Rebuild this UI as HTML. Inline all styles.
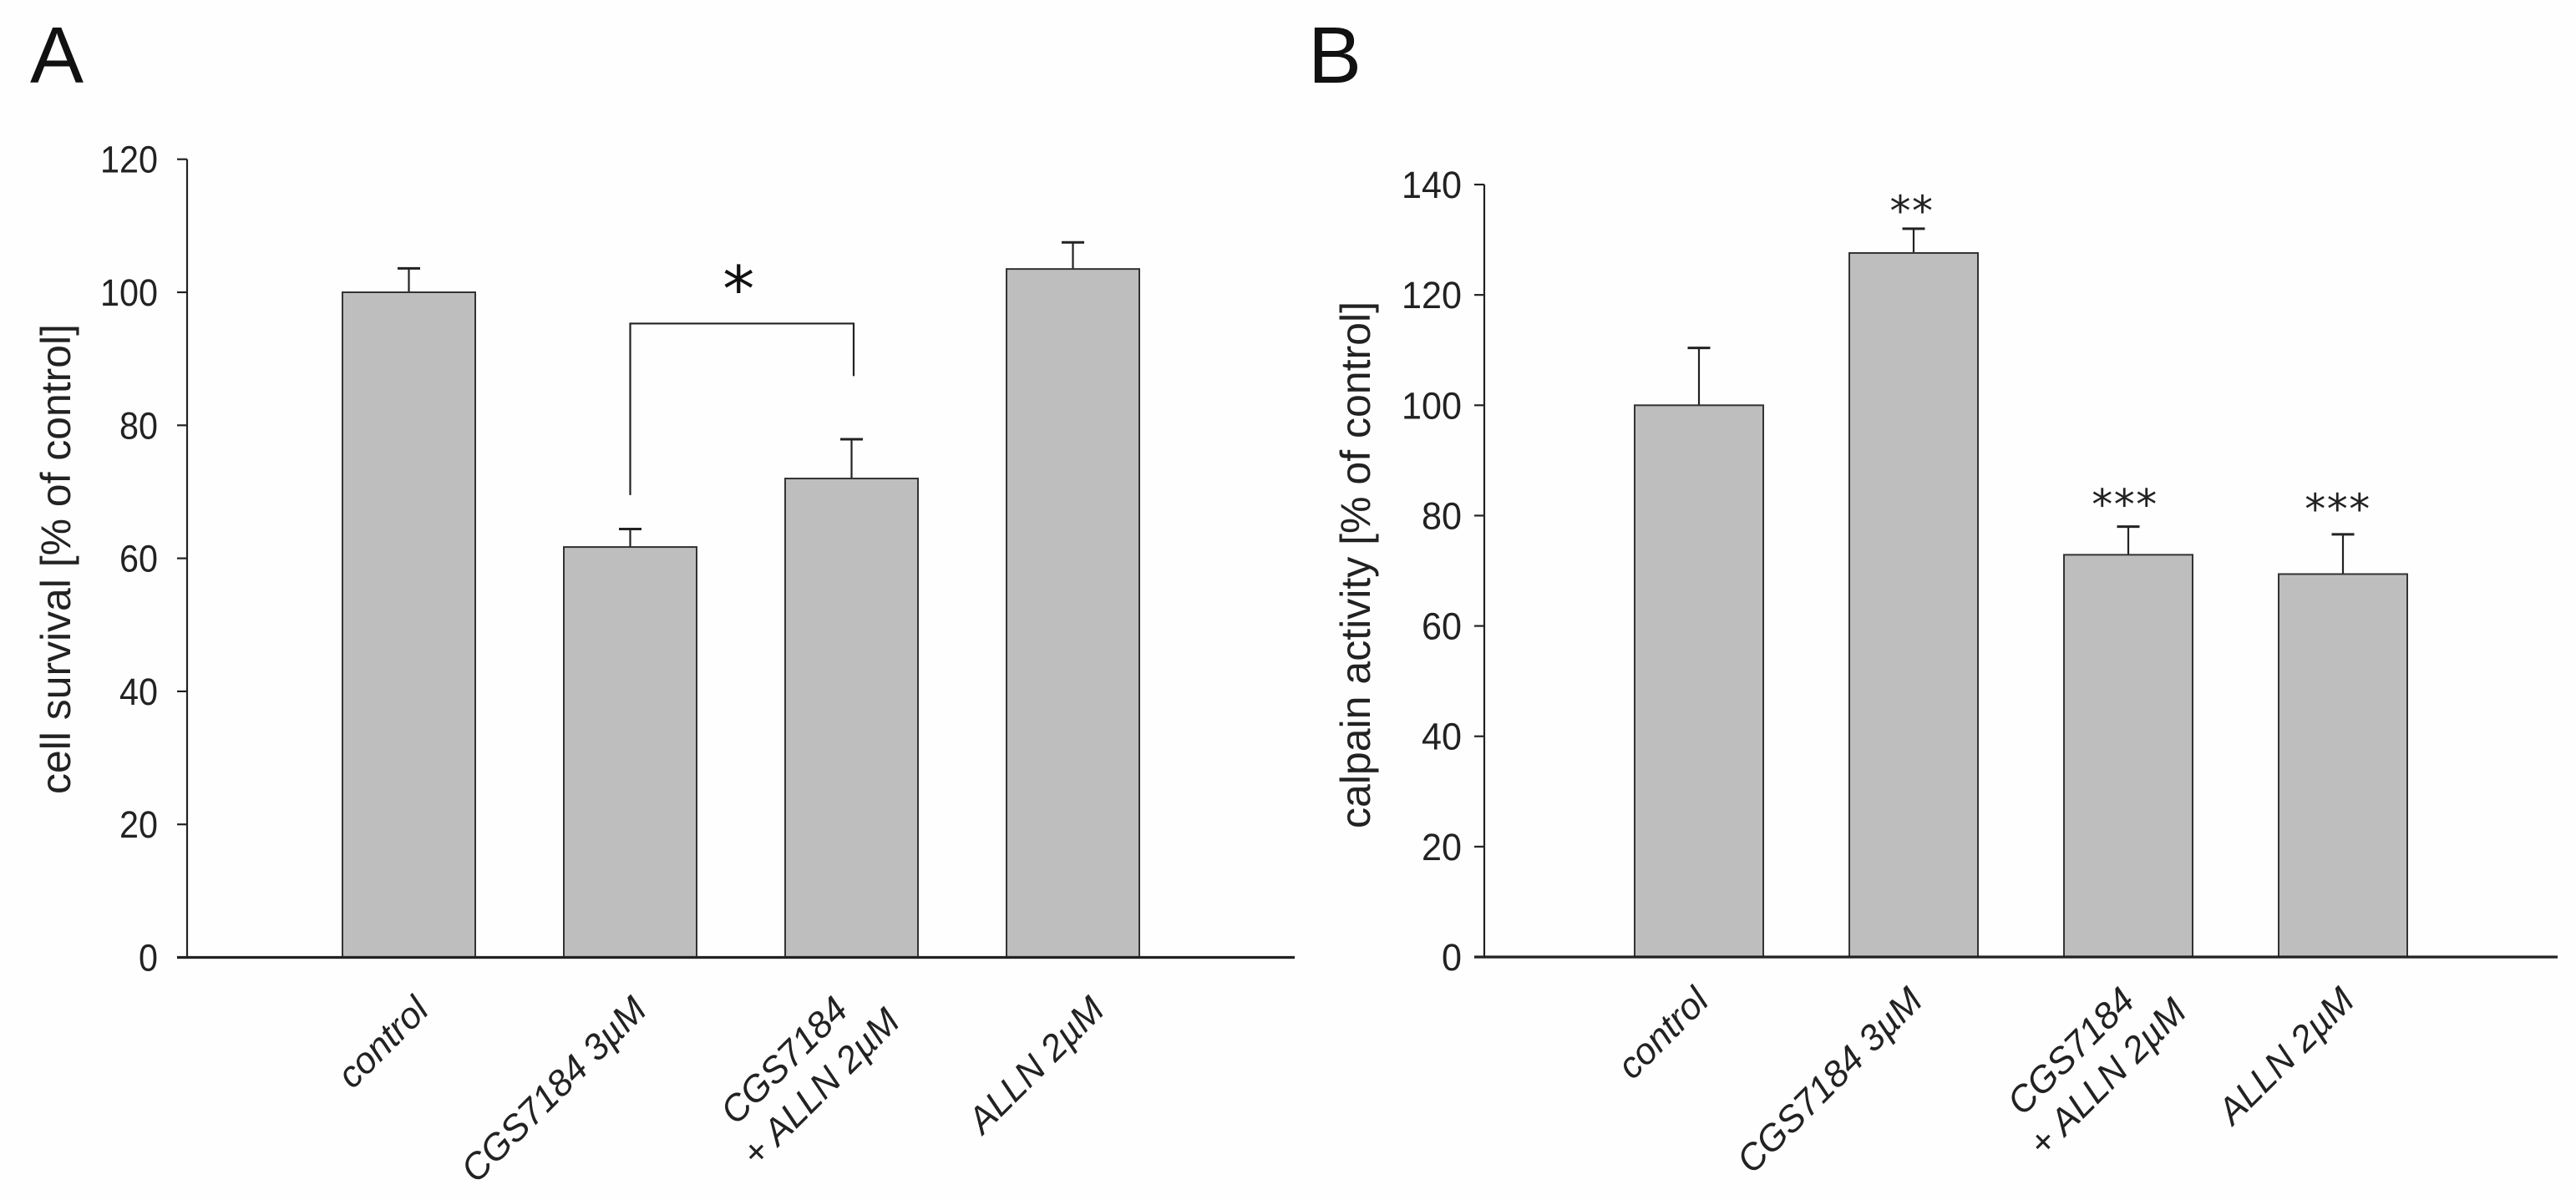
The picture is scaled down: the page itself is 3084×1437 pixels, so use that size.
<!DOCTYPE html>
<html lang="en">
<head>
<meta charset="utf-8">
<title>Cell survival and calpain activity</title>
<style>
html,body{margin:0;padding:0;background:#fff;}
svg{display:block;}
text{font-family:"Liberation Sans",Arial,sans-serif;fill:#222;}
</style>
</head>
<body>
<svg id="fig" xmlns="http://www.w3.org/2000/svg" width="3084" height="1437" viewBox="0 0 3084 1437">
  <rect x="0" y="0" width="3084" height="1437" fill="#fefefe"/>
  <text x="36" y="99" font-size="96" style="fill:#111">A</text>
  <text x="1566" y="99" font-size="96" style="fill:#111">B</text>
  <text transform="translate(84,951) rotate(-90)" font-size="50" textLength="563" lengthAdjust="spacingAndGlyphs">cell survival [% of control]</text>
  <text transform="translate(1640,992) rotate(-90)" font-size="50" textLength="631" lengthAdjust="spacingAndGlyphs">calpain activity [% of control]</text>
  <g id="panel-a"></g>
  <g id="panel-b"></g>
</svg>
<script>
// ---- Panel A data ----
const categoriesA = [["control"], ["CGS7184 3µM"], ["CGS7184", "+ ALLN 2µM"], ["ALLN 2µM"]];
const valuesA = [100, 61.7, 72, 103.5];
const errorTopsA = [103.6, 64.4, 77.9, 107.5];
const ticksA = [0, 20, 40, 60, 80, 100, 120];
const bracketLevelsA = [95.3, 69.5, 87.4];
const bracketStarA = ["*"];

// ---- Panel B data ----
const categoriesB = [["control"], ["CGS7184 3µM"], ["CGS7184", "+ ALLN 2µM"], ["ALLN 2µM"]];
const valuesB = [100, 127.6, 72.9, 69.4];
const errorTopsB = [110.4, 132, 78, 76.6];
const ticksB = [0, 20, 40, 60, 80, 100, 120, 140];
const significanceB = ["", "**", "***", "***"];

const NS = "http://www.w3.org/2000/svg";
function mk(parent, tag, attrs, txt) {
  const el = document.createElementNS(NS, tag);
  for (const k in attrs) el.setAttribute(k, attrs[k]);
  if (txt !== undefined) el.textContent = txt;
  parent.appendChild(el);
  return el;
}

function drawPanel(root, cfg) {
  const y = v => cfg.y0 - v * cfg.pxPerUnit;
  const left = i => cfg.firstBar + i * cfg.step;
  const center = i => left(i) + cfg.barW / 2;

  // bars first so axes draw on top
  cfg.values.forEach((v, i) => {
    const err = mk(root, "line", {x1: center(i), x2: center(i), y1: y(v), y2: y(cfg.errs[i]), stroke: "#222", "stroke-width": 2.2});
    
    
    const cap = mk(root, "line", {x1: center(i) - 13.5, x2: center(i) + 13.5, y1: y(cfg.errs[i]), y2: y(cfg.errs[i]), stroke: "#222", "stroke-width": 3});
    
    
    const bar = mk(root, "rect", {x: left(i), y: y(v), width: cfg.barW, height: cfg.y0 - y(v), fill: "#bebebe", stroke: "#333", "stroke-width": 2});
    
    
  });

  // y axis
  const yAxis = mk(root, "line", {x1: cfg.axisX, x2: cfg.axisX, y1: y(cfg.ticks[cfg.ticks.length - 1]), y2: cfg.y0 + 1, stroke: "#222", "stroke-width": 2.2});
  
  
  const xAxis = mk(root, "line", {x1: cfg.axisX - 12, x2: cfg.axisEnd, y1: cfg.y0, y2: cfg.y0, stroke: "#222", "stroke-width": 3.2});
  
  

  cfg.ticks.forEach(t => {
    const tick = mk(root, "line", {x1: cfg.axisX - 12, x2: cfg.axisX, y1: y(t), y2: y(t), stroke: "#222", "stroke-width": 2.2});
    
    
    const s = String(t);
    const w = s.length * cfg.digitW;
    const lab = mk(root, "text", {x: cfg.tickRight - w, y: y(t) + 16, "font-size": 45, textLength: w, lengthAdjust: "spacingAndGlyphs"}, s);
    
    
  });

  // rotated category labels
  cfg.categories.forEach((lines, i) => {
    lines.forEach((line, j) => {
      const end = cfg.labelEnds[i][j];
      const lab = mk(root, "text", {transform: "translate(" + (center(i) + end[0]) + "," + end[1] + ") rotate(-45)", "font-size": 44, "font-style": "italic", "text-anchor": "end"}, line);
      
      
    });
  });

  // significance markers above the error bars
  if (cfg.sig) {
    cfg.sig.forEach((s, i) => {
      if (!s) return;
      const star = mk(root, "text", {x: center(i) + cfg.sigDx[i], y: y(cfg.errs[i]) + cfg.sigDy[i], "font-size": 50, "letter-spacing": 1.5, "text-anchor": "middle", style: "font-family:'DejaVu Sans',sans-serif"}, s);
      
      
    });
  }

  // bracket between two bars
  if (cfg.bracket) {
    const a = center(1), b = center(2) + 2.5;
    const path = mk(root, "path", {d: "M" + a + " " + y(cfg.bracket[1]) + "V" + y(cfg.bracket[0]) + "H" + b + "V" + y(cfg.bracket[2]), fill: "none", stroke: "#222", "stroke-width": 2.2});
    
    
    const star = mk(root, "text", {x: (a + b) / 2 - 4, y: y(cfg.bracket[0]) - 15, "font-size": 76, "text-anchor": "middle", style: "font-family:'DejaVu Sans',sans-serif;fill:#111"}, cfg.bracketStar[0]);
    
    
  }
}

drawPanel(document.getElementById("panel-a"), {
  values: valuesA, errs: errorTopsA, ticks: ticksA, categories: categoriesA,
  bracket: bracketLevelsA, bracketStar: bracketStarA,
  y0: 1146.5, pxPerUnit: 7.965, firstBar: 410, step: 265, barW: 159,
  axisX: 224, axisEnd: 1550, tickRight: 189, digitW: 23,
  labelEnds: [[[26, 1212]], [[22, 1212]], [[-2, 1212], [60, 1226]], [[40, 1212]]]
});

drawPanel(document.getElementById("panel-b"), {
  values: valuesB, errs: errorTopsB, ticks: ticksB, categories: categoriesB,
  sig: significanceB, sigDx: [0, -2, -4, -6], sigDy: [0, -4, -9, -13],
  y0: 1146, pxPerUnit: 6.607, firstBar: 1957, step: 257, barW: 154,
  axisX: 1777, axisEnd: 3062, tickRight: 1750, digitW: 24,
  labelEnds: [[[14, 1201]], [[13, 1201]], [[10, 1201], [72, 1214]], [[16, 1201]]]
});
</script>
</body>
</html>
